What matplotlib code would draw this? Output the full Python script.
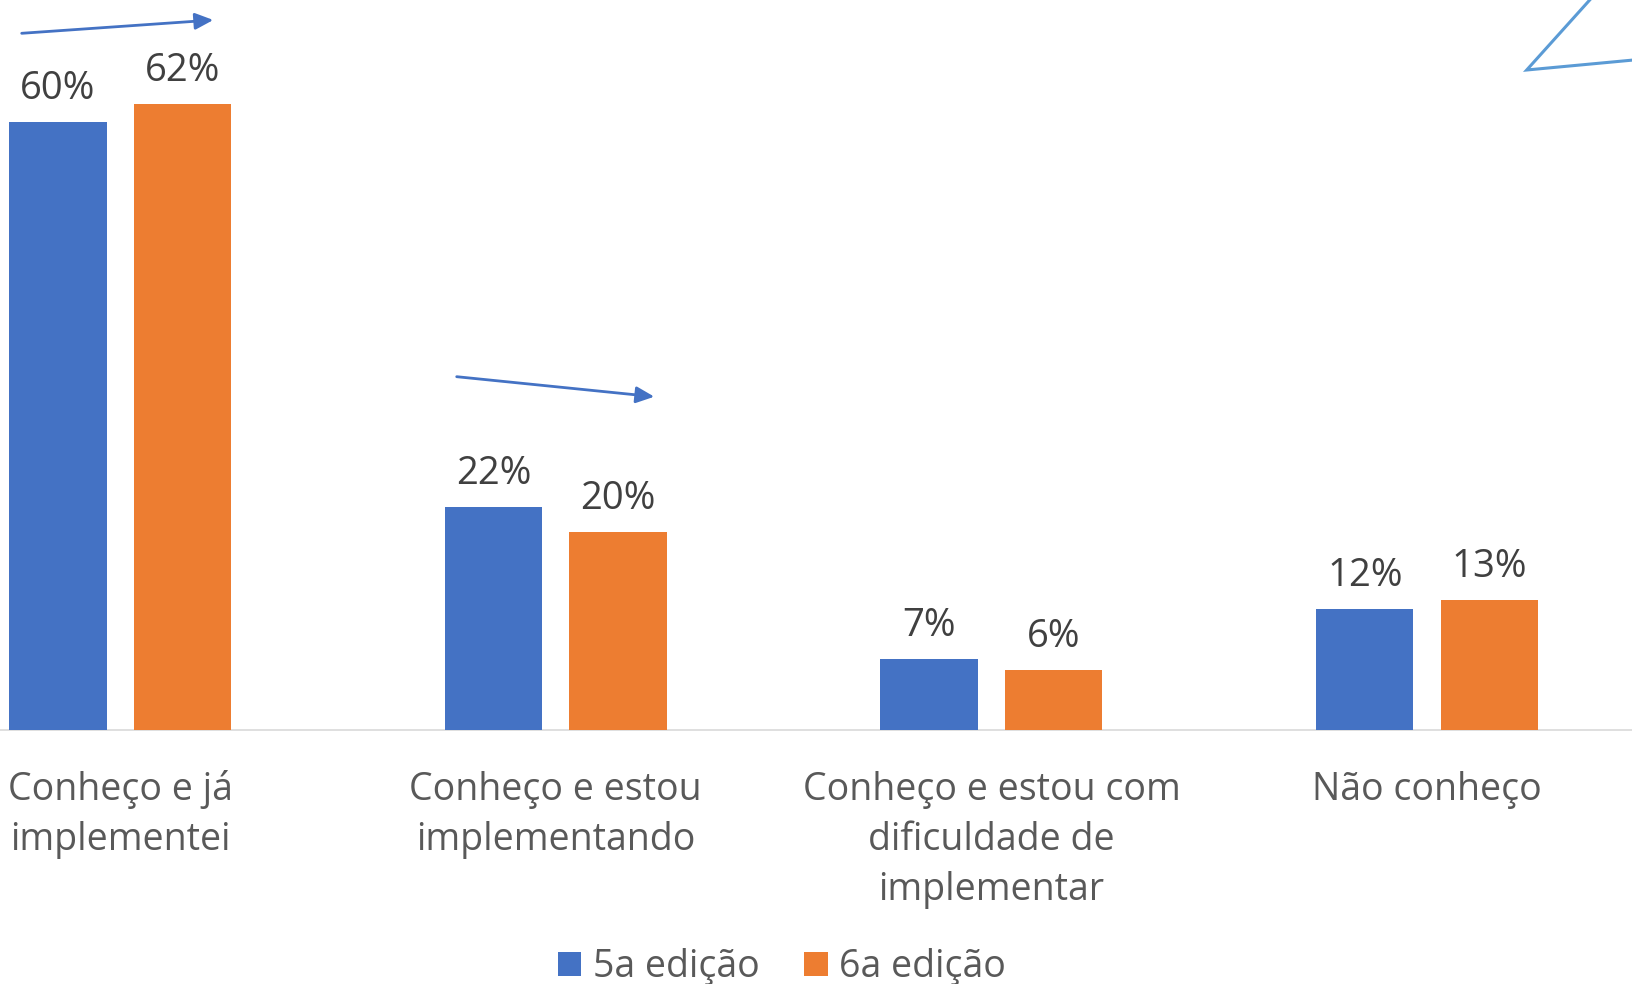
import matplotlib
matplotlib.use("Agg")
import matplotlib.pyplot as plt
import matplotlib.transforms as mtransforms
from matplotlib.patches import Patch

plt.rcParams['font.family'] = ['Open Sans', 'DejaVu Sans']

categories = ["Conheço e já\nimplementei",
              "Conheço e estou\nimplementando",
              "Conheço e estou com\ndificuldade de\nimplementar",
              "Não conheço"]
series_names = ["5a edição", "6a edição"]
ed5 = [60.2, 22.1, 7.05, 12.0]
ed6 = [62.0, 19.6, 5.9, 12.9]
labels5 = ["60%", "22%", "7%", "12%"]
labels6 = ["62%", "20%", "6%", "13%"]

BLUE = "#4472C4"
ORANGE = "#ED7D31"
W, H = 1632, 984
DPI = 100

fig = plt.figure(figsize=(W / DPI, H / DPI), dpi=DPI)
base_px = 730
ax = fig.add_axes([0, (H - base_px) / H, 1, base_px / H])

unit = 435.6
xmin = -120.2 / unit
xmax = xmin + W / unit
ax.set_xlim(xmin, xmax)
ax.set_ylim(0, base_px / 10.1)

bw = 0.2236
off = 0.1428
xs = list(range(len(categories)))
ax.bar([x - off for x in xs], ed5, width=bw, color=BLUE, zorder=2)
ax.bar([x + off for x in xs], ed6, width=bw, color=ORANGE, zorder=2)

lab_col = "#404040"
for x, v, t in zip(xs, ed5, labels5):
    ax.annotate(t, (x - off, v), xytext=(0, 23 * 72 / DPI), textcoords="offset points",
                ha="center", va="baseline", fontsize=27.5, color=lab_col)
for x, v, t in zip(xs, ed6, labels6):
    ax.annotate(t, (x + off, v), xytext=(0, 23 * 72 / DPI), textcoords="offset points",
                ha="center", va="baseline", fontsize=27.5, color=lab_col)

for s in ax.spines.values():
    s.set_visible(False)
ax.set_xticks([])
ax.set_yticks([])
ax.axhline(0, color="#D9D9D9", lw=1.2, zorder=1, clip_on=False)
ax.patch.set_alpha(0)

# category labels, line by line
trans = mtransforms.blended_transform_factory(ax.transData, fig.transFigure)
for x, cat in zip(xs, categories):
    for i, line in enumerate(cat.split("\n")):
        yb = 800 + 50 * i
        ax.text(x, (H - yb) / H, line, transform=trans, ha="center", va="baseline",
                fontsize=27, color="#595959", clip_on=False)

# legend
handles = [Patch(facecolor=BLUE, label=series_names[0]),
           Patch(facecolor=ORANGE, label=series_names[1])]
fig.legend(handles=handles, loc="center", bbox_to_anchor=(782 / W, 17 / H), ncol=2,
           frameon=False, fontsize=27, labelcolor="#595959", handlelength=0.62,
           handleheight=0.62, handletextpad=0.3, columnspacing=1.2, borderpad=0)

# decorative arrows
ax_ann = fig.add_axes([0, 0, 1, 1], facecolor="none")
ax_ann.set_xlim(0, W)
ax_ann.set_ylim(H, 0)
ax_ann.axis("off")
arrow_kw = dict(arrowstyle="-|>,head_length=1.1,head_width=0.5", color=BLUE, lw=2.0,
                shrinkA=0, shrinkB=0)
ax_ann.annotate("", xy=(213.3, 20.0), xytext=(21.7, 33.3), arrowprops=arrow_kw)
ax_ann.annotate("", xy=(654.3, 396.7), xytext=(456.7, 376.7), arrowprops=arrow_kw)
ax_ann.plot([1596, 1526.7, 1640], [-7, 70, 59.4], color="#5B9BD5", lw=2.2,
            solid_joinstyle="miter", clip_on=True)

fig.savefig("out.png", dpi=DPI)
